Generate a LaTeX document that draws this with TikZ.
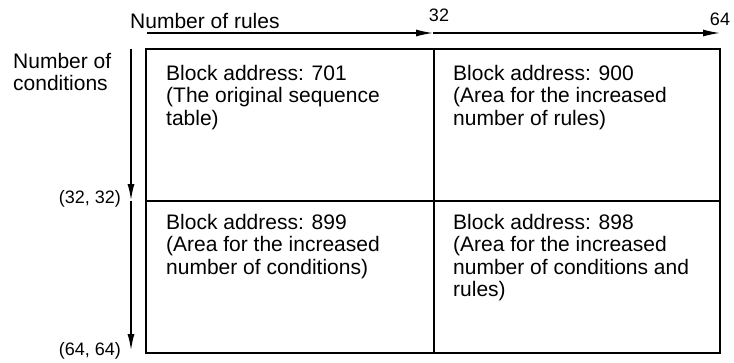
\documentclass[tikz,border=0pt]{standalone}
\usepackage{fontspec}
\setmainfont{Liberation Sans}
\usepackage{tikz}
\usetikzlibrary{arrows.meta,positioning}

\begin{document}
\begin{tikzpicture}[x=1pt, y=-1pt, >={Latex[length=17pt,width=7pt]},
  font={\fontsize{21}{22.5}\selectfont},
  cell/.style={draw, line width=1.2pt, outer sep=0pt, inner sep=0pt, minimum height=152pt},
  celltext/.style={align=left, inner sep=0pt},
  coordlabel/.style={font={\fontsize{18}{20}\selectfont}, inner sep=0pt}]
\useasboundingbox (0,0) rectangle (734,362);
% the four table blocks
\node[cell, minimum width=288pt, anchor=north west] (c701) at (146,49) {};
\node[cell, minimum width=286pt, right=0pt of c701] (c900) {};
\node[cell, minimum width=288pt, below=0pt of c701] (c899) {};
\node[cell, minimum width=286pt, below=0pt of c900] (c898) {};
\node[celltext, below right=16pt and 20pt of c701.north west] (t701) {Block address: 701\\(The original sequence\\table)};
\node[celltext, below right=16pt and 19pt of c900.north west] (t900) {Block address: 900\\(Area for the increased\\number of rules)};
\node[celltext, below right=13pt and 20pt of c899.north west] (t899) {Block address: 899\\(Area for the increased\\number of conditions)};
\node[celltext, below right=13pt and 19pt of c898.north west] (t898) {Block address: 898\\(Area for the increased\\number of conditions and\\rules)};
% axes
\coordinate (h0) at (147,33);
\coordinate (h1) at (433,33);
\coordinate (h2) at (720,33);
\coordinate (v0) at (131,49);
\coordinate (v1) at (131,201);
\coordinate (v2) at (131,351);
\draw[->, line width=1.3pt] (h0) -- (h1);
\draw[->, line width=1.3pt] (h1) -- (h2);
\draw[->, line width=2pt] (v0) -- (v1);
\draw[->, line width=2pt] (v1) -- (v2);
\node[anchor=base west, inner sep=0pt] (rules) at (130,28) {Number of rules};
\node[coordlabel, anchor=center] (n32) at (439,15) {32};
\node[coordlabel, anchor=center] (n64) at (720,19) {64};
\node[celltext, anchor=north west] (conds) at (13,53) {Number of\\conditions};
\node[coordlabel, anchor=east] (p32) at (121,199) {(32, 32)};
\node[coordlabel, anchor=east] (p64) at (121,351) {(64, 64)};
\end{tikzpicture}
\end{document}
